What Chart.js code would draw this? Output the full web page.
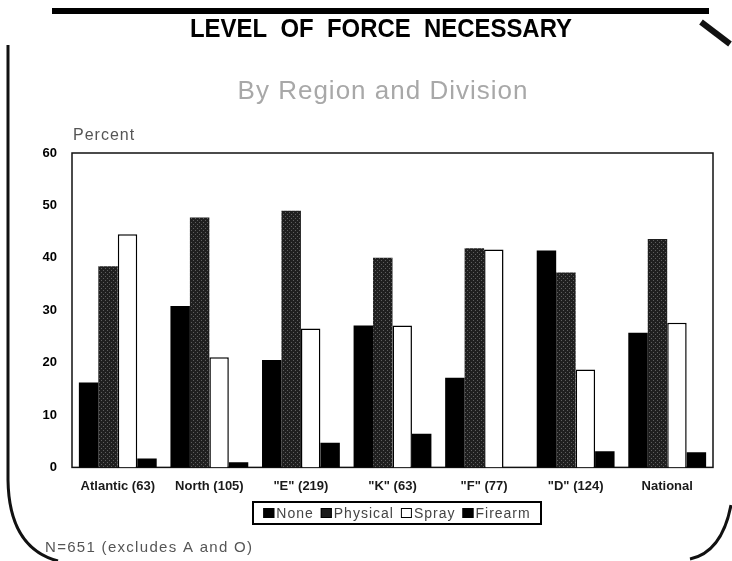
<!DOCTYPE html>
<html>
<head>
<meta charset="utf-8">
<script src="https://cdn.jsdelivr.net/npm/chart.js@4"></script>
<style>
  html, body { margin: 0; padding: 0; background: #fff; }
  #wrap { width: 732px; height: 561px; }
</style>
</head>
<body>
<div id="wrap"><canvas id="chart" width="732" height="561"></canvas></div>
<script>
// data
const categories = ['Atlantic (63)', 'North (105)', '"E" (219)', '"K" (63)', '"F" (77)', '"D" (124)', 'National'];
const noneValues = [16.2, 30.8, 20.5, 27.1, 17.1, 41.4, 25.7];
const physicalValues = [38.4, 47.7, 49.0, 40.0, 41.8, 37.2, 43.6];
const sprayValues = [44.5, 21.0, 26.5, 27.1, 41.6, 18.7, 27.6];
const firearmValues = [1.7, 1.0, 4.7, 6.4, 0, 3.1, 2.9];
const yTicks = [0, 10, 20, 30, 40, 50, 60];

const titleText = 'LEVEL  OF  FORCE  NECESSARY';
const subtitleText = 'By Region and Division';
const footerText = 'N=651 (excludes A and O)';

const FONT = "'Liberation Sans', Arial, sans-serif";
Chart.defaults.font.family = FONT;
Chart.defaults.color = '#111';

// speckled dark fill for "Physical"
function speckle() {
    const c = document.createElement('canvas');
    c.width = 4; c.height = 4;
    const g = c.getContext('2d');
    g.fillStyle = '#1f1f1f';
    g.fillRect(0, 0, 4, 4);
    g.fillStyle = '#5e5e5e';
    g.fillRect(1, 0, 1, 1);
    g.fillRect(3, 2, 1, 1);
    return g.createPattern(c, 'repeat');
}
const physFill = speckle();

function spaced(ctx, px) {
    if ('letterSpacing' in ctx) ctx.letterSpacing = px + 'px';
}

// titles, frame, legend, footer, scan border marks
const extras = {
    id: 'extras',
    beforeDatasetsDraw(chart) {
        const ctx = chart.ctx, a = chart.chartArea;
        ctx.save();
        ctx.strokeStyle = '#111';
        ctx.lineWidth = 1.5;
        ctx.strokeRect(a.left, a.top, a.right - a.left, a.bottom - a.top);
        ctx.restore();
    },
    afterDraw(chart) {
        const ctx = chart.ctx;
        ctx.save();
        ctx.textBaseline = 'middle';

        // title, condensed bold
        ctx.font = 'bold 25px ' + FONT;
        ctx.fillStyle = '#000';
        const tw = ctx.measureText(titleText).width;
        const sx = 382 / tw;
        ctx.save();
        ctx.translate(381, 30);
        ctx.scale(sx, 1);
        ctx.textAlign = 'center';
        ctx.fillText(titleText, 0, 0);
        ctx.restore();

        // subtitle
        ctx.font = '26px ' + FONT;
        ctx.fillStyle = '#a8a8a8';
        spaced(ctx, 1);
        ctx.textAlign = 'center';
        ctx.fillText(subtitleText, 383, 92);

        // axis caption and footer
        ctx.textAlign = 'left';
        ctx.fillStyle = '#555';
        ctx.font = '16px ' + FONT;
        ctx.fillText('Percent', 73, 136);
        ctx.font = '15px ' + FONT;
        spaced(ctx, 1.3);
        ctx.fillText(footerText, 45, 548);

        // legend built from the datasets
        ctx.font = '14px ' + FONT;
        spaced(ctx, 1);
        const items = chart.data.datasets.map((ds, i) => ({
            text: ds.label,
            fill: i === 1 ? '#1a1a1a' : ds.backgroundColor,
            w: ctx.measureText(ds.label).width
        }));
        const sw = 11, gapIn = 2, gapOut = 7;
        let total = 0;
        items.forEach((it, i) => { total += sw + gapIn + it.w + (i ? gapOut : 0); });
        let x = 397 - total / 2;
        const ly = 513;
        ctx.strokeStyle = '#000';
        ctx.lineWidth = 2;
        ctx.strokeRect(253, 502, 288, 22);
        ctx.lineWidth = 1;
        items.forEach((it, i) => {
            if (i) x += gapOut;
            ctx.fillStyle = it.fill;
            ctx.fillRect(x, ly - 5, sw, 10);
            ctx.strokeRect(x + 0.5, ly - 4.5, sw - 1, 9);
            x += sw + gapIn;
            ctx.fillStyle = '#444';
            ctx.fillText(it.text, x, ly + 1);
            x += it.w;
        });
        spaced(ctx, 0);

        // top rule
        ctx.fillStyle = '#000';
        ctx.fillRect(52, 8, 657, 6);
        // scanned page edges
        ctx.strokeStyle = '#111';
        ctx.lineWidth = 3;
        ctx.beginPath();
        ctx.moveTo(8, 45);
        ctx.lineTo(8, 480);
        ctx.quadraticCurveTo(9, 548, 58, 561);
        ctx.stroke();
        ctx.beginPath();
        ctx.moveTo(731, 505);
        ctx.quadraticCurveTo(722, 552, 690, 559);
        ctx.stroke();
        ctx.lineWidth = 6;
        ctx.beginPath();
        ctx.moveTo(701, 22);
        ctx.lineTo(730, 44);
        ctx.stroke();
        ctx.restore();
    }
};

const chartData = {
    labels: categories,
    datasets: [
        { label: 'None', data: noneValues, backgroundColor: '#000', borderWidth: 0 },
        { label: 'Physical', data: physicalValues, backgroundColor: physFill, borderWidth: 0 },
        { label: 'Spray', data: sprayValues, backgroundColor: '#fff', borderColor: '#000', borderWidth: 1.5 },
        { label: 'Firearm', data: firearmValues, backgroundColor: '#000', borderWidth: 0 }
    ]
};

const config = {
    type: 'bar',
    data: chartData,
    options: {
        responsive: false,
        animation: false,
        layout: { padding: { left: 0, right: 19, top: 153, bottom: 56 } },
        datasets: { bar: { categoryPercentage: 0.85, barPercentage: 1.0 } },
        plugins: {
            title: { display: false },
            legend: { display: false },
            tooltip: { enabled: false }
        },
        scales: {
            x: {
                grid: { display: false, drawTicks: false },
                border: { display: false },
                ticks: { padding: 11, color: '#1a1a1a', font: { size: 13, weight: 'bold' } }
            },
            y: {
                min: 0,
                max: 60,
                afterBuildTicks(scale) { scale.ticks = yTicks.map(v => ({ value: v })); },
                afterFit(scale) { scale.width = 72; },
                grid: { display: false, drawTicks: false },
                border: { display: false },
                ticks: { padding: 15, color: '#000', font: { size: 13, weight: 'bold' } }
            }
        }
    },
    plugins: [extras]
};

const myChart = new Chart(document.getElementById('chart').getContext('2d'), config);
</script>
</body>
</html>
